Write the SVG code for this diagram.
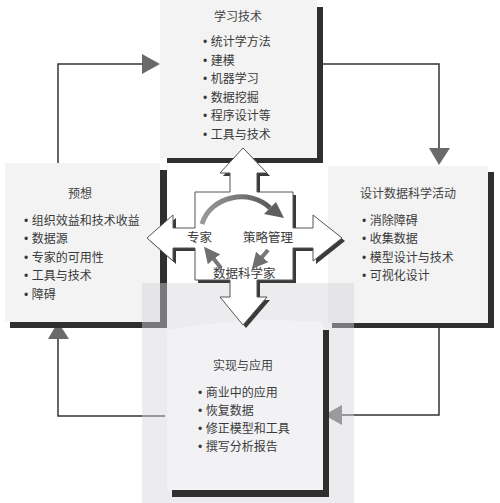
<svg xmlns="http://www.w3.org/2000/svg" width="500" height="503" viewBox="0 0 500 503">
<defs>
<style>
.t{font-family:"Noto Sans CJK SC","Liberation Sans",sans-serif;font-size:12px;fill:#3a3a3a}
.b{font-family:"Liberation Sans",sans-serif}
.h{font-family:"Noto Sans CJK SC","Liberation Sans",sans-serif;font-size:12px;fill:#444;text-anchor:middle}
.c{font-family:"Noto Sans CJK SC","Liberation Sans",sans-serif;font-size:12.5px;fill:#3a3a3a}
.box{fill:#f3f3f3}
.bar{fill:#2f2f2f}
.ln{fill:none;stroke:#333;stroke-width:1.5}
.ah{fill:#6a6a6a}
</style>
<linearGradient id="g" x1="0" y1="0" x2="1" y2="0">
<stop offset="0" stop-color="#9a9a9a"/>
<stop offset="1" stop-color="#5a5a5a"/>
</linearGradient>
<marker id="m" markerWidth="4" markerHeight="4" refX="2" refY="2" orient="auto" markerUnits="strokeWidth">
<path d="M0,0 L4,2 L0,4 Z" fill="#6f6f6f"/>
</marker>
</defs>
<rect width="500" height="503" fill="#ffffff"/>

<g id="connectors">
<path class="ln" d="M58,165 V64 H144"/>
<polygon class="ah" points="160,64 142,54 142,74"/>
<path class="ln" d="M323,64 H439 V149"/>
<polygon class="ah" points="439,165 429,148 450,148"/>
<path class="ln" d="M439,328 V415 H340"/>
<polygon class="ah" points="324,415 342,405 342,425"/>
<path class="ln" d="M165,416 H58 V338"/>
<polygon class="ah" points="58,322 48,339 69,339"/>
</g>

<g id="learn">
<rect class="box" x="160" y="0" width="157" height="158"/>
<rect class="bar" x="317" y="7" width="6" height="156"/>
<rect class="bar" x="167" y="158" width="156" height="5"/>
<text class="h" x="238" y="21">学习技术</text>
<text class="t" x="203" y="46"><tspan class="b">•</tspan><tspan dx="3.5">统计学方法</tspan></text>
<text class="t" x="203" y="64.5"><tspan class="b">•</tspan><tspan dx="3.5">建模</tspan></text>
<text class="t" x="203" y="83"><tspan class="b">•</tspan><tspan dx="3.5">机器学习</tspan></text>
<text class="t" x="203" y="101.5"><tspan class="b">•</tspan><tspan dx="3.5">数据挖掘</tspan></text>
<text class="t" x="203" y="120"><tspan class="b">•</tspan><tspan dx="3.5">程序设计等</tspan></text>
<text class="t" x="203" y="138.5"><tspan class="b">•</tspan><tspan dx="3.5">工具与技术</tspan></text>
</g>

<g id="plan">
<rect class="box" x="5" y="163" width="155" height="159"/>
<rect class="bar" x="160" y="170" width="7" height="158"/>
<rect class="bar" x="10" y="322" width="157" height="6"/>
<text class="h" x="80" y="197.5">预想</text>
<text class="t" x="24" y="224.5"><tspan class="b">•</tspan><tspan dx="3.5">组织效益和技术收益</tspan></text>
<text class="t" x="24" y="243"><tspan class="b">•</tspan><tspan dx="3.5">数据源</tspan></text>
<text class="t" x="24" y="261.5"><tspan class="b">•</tspan><tspan dx="3.5">专家的可用性</tspan></text>
<text class="t" x="24" y="280"><tspan class="b">•</tspan><tspan dx="3.5">工具与技术</tspan></text>
<text class="t" x="24" y="298.5"><tspan class="b">•</tspan><tspan dx="3.5">障碍</tspan></text>
</g>

<g id="design">
<rect class="box" x="328" y="166" width="160" height="157"/>
<rect class="bar" x="488" y="172" width="6" height="156"/>
<rect class="bar" x="332" y="323" width="162" height="5"/>
<text class="h" x="408" y="197.5">设计数据科学活动</text>
<text class="t" x="362" y="224.5"><tspan class="b">•</tspan><tspan dx="3.5">消除障碍</tspan></text>
<text class="t" x="362" y="243"><tspan class="b">•</tspan><tspan dx="3.5">收集数据</tspan></text>
<text class="t" x="362" y="261.5"><tspan class="b">•</tspan><tspan dx="3.5">模型设计与技术</tspan></text>
<text class="t" x="362" y="280"><tspan class="b">•</tspan><tspan dx="3.5">可视化设计</tspan></text>
</g>

<rect x="142" y="283" width="212" height="220" fill="#d4d4dc" fill-opacity="0.45"/>

<g id="apply">
<path d="M167,330 Q240,316 323,322 V490 H167 Z" fill="#f2f2f5"/>
<rect class="bar" x="323" y="330" width="6" height="167"/>
<rect class="bar" x="172" y="490" width="157" height="7"/>
<text class="h" x="243" y="369.5">实现与应用</text>
<text class="t" x="198" y="396.5"><tspan class="b">•</tspan><tspan dx="3.5">商业中的应用</tspan></text>
<text class="t" x="198" y="414.5"><tspan class="b">•</tspan><tspan dx="3.5">恢复数据</tspan></text>
<text class="t" x="198" y="432.5"><tspan class="b">•</tspan><tspan dx="3.5">修正模型和工具</tspan></text>
<text class="t" x="198" y="450.5"><tspan class="b">•</tspan><tspan dx="3.5">撰写分析报告</tspan></text>
</g>

<g id="center">
<polygon points="243,148 267,173 257,173 257,192 293,192 293,228 313,228 313,215 342,238 313,261 313,248 293,248 293,280 257,280 257,297 267,297 243,325 220,297 230,297 230,280 195,280 195,248 173,248 173,261 147,238 173,215 173,228 195,228 195,192 230,192 230,173 220,173" fill="#3a3a3a" transform="translate(3,3)"/>
<polygon points="243,148 267,173 257,173 257,192 293,192 293,228 313,228 313,215 342,238 313,261 313,248 293,248 293,280 257,280 257,297 267,297 243,325 220,297 230,297 230,280 195,280 195,248 173,248 173,261 147,238 173,215 173,228 195,228 195,192 230,192 230,173 220,173" fill="#ffffff" stroke="#555" stroke-width="1"/>
<path d="M202,224 C210,196 250,188 270,208" fill="none" stroke="url(#g)" stroke-width="5"/>
<polygon points="284,218 264,214 276,202" fill="#5f5f5f"/>
<path d="M268,250 L257,263" fill="none" stroke="#777" stroke-width="4" marker-end="url(#m)"/>
<path d="M221,268 L209,253" fill="none" stroke="#777" stroke-width="4" marker-end="url(#m)"/>
<text class="c" x="187" y="241.5">专家</text>
<text class="c" x="243" y="241.5">策略管理</text>
<text class="c" x="213" y="277.5">数据科学家</text>
</g>
</svg>
